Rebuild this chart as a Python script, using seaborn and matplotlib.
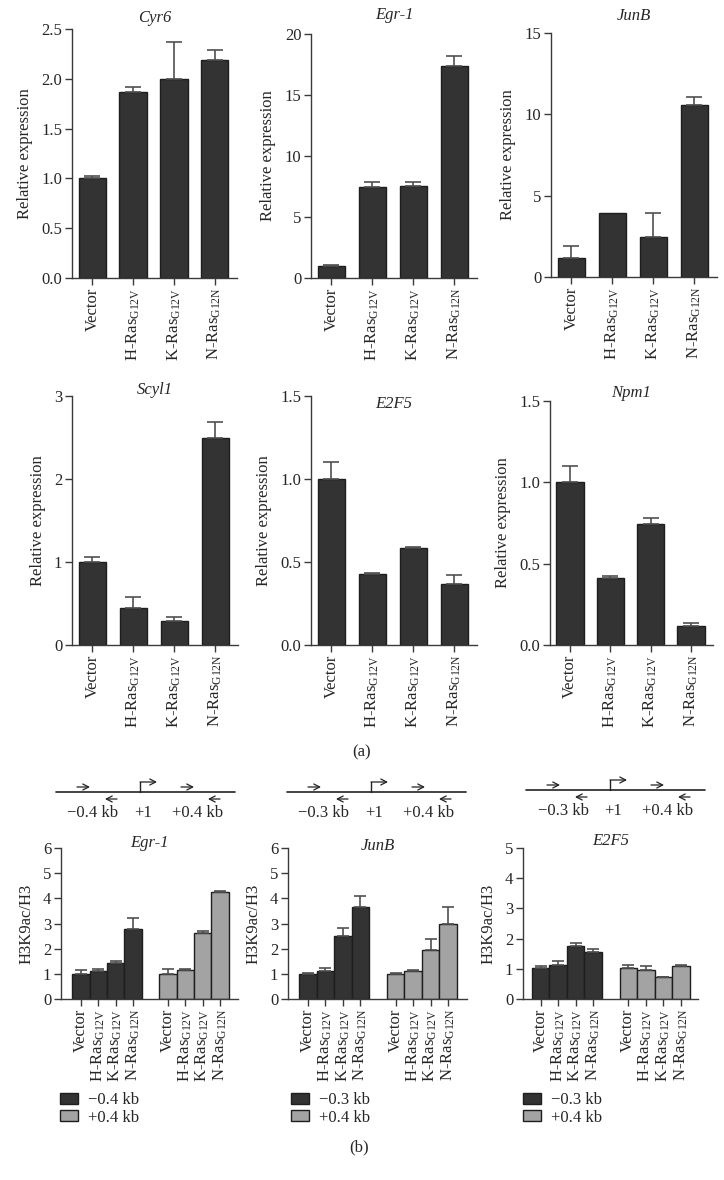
import matplotlib
matplotlib.use('Agg')
import matplotlib.pyplot as plt
from matplotlib.patches import Patch
import seaborn as sns
import pandas as pd

W, H = 724, 1180

conditions = ['Vector', 'H-Ras G12V', 'K-Ras G12V', 'N-Ras G12N']
cond_labels = ['Vector', 'H-Ras$_{\\mathrm{G12V}}$', 'K-Ras$_{\\mathrm{G12V}}$',
               'N-Ras$_{\\mathrm{G12N}}$']

# (a) relative expression: mean and upper error
cyr6_mean = [1.00, 1.87, 2.00, 2.19]
cyr6_err = [0.02, 0.05, 0.37, 0.10]
egr1_mean = [1.00, 7.45, 7.52, 17.35]
egr1_err = [0.05, 0.40, 0.36, 0.87]
junb_mean = [1.17, 3.93, 2.46, 10.60]
junb_err = [0.76, 0.00, 1.50, 0.49]
scyl1_mean = [1.00, 0.45, 0.285, 2.50]
scyl1_err = [0.055, 0.13, 0.05, 0.19]
e2f5_mean = [1.00, 0.427, 0.585, 0.369]
e2f5_err = [0.10, 0.005, 0.005, 0.055]
npm1_mean = [1.00, 0.411, 0.741, 0.117]
npm1_err = [0.10, 0.013, 0.04, 0.02]

# (b) H3K9ac/H3 at the upstream and downstream primer sites
egr1_up = [1.00, 1.10, 1.45, 2.78]
egr1_up_err = [0.14, 0.10, 0.07, 0.42]
egr1_dn = [1.00, 1.16, 2.62, 4.25]
egr1_dn_err = [0.20, 0.02, 0.08, 0.06]
junb_up = [1.00, 1.10, 2.50, 3.67]
junb_up_err = [0.05, 0.13, 0.33, 0.42]
junb_dn = [1.00, 1.13, 1.95, 3.00]
junb_dn_err = [0.05, 0.02, 0.45, 0.65]
e2f5_up = [1.01, 1.11, 1.77, 1.57]
e2f5_up_err = [0.08, 0.16, 0.09, 0.08]
e2f5_dn = [1.01, 0.945, 0.714, 1.08]
e2f5_dn_err = [0.13, 0.14, 0.03, 0.03]

DARK = '#333333'
GRAY = '#a3a3a3'
EDGE = '#1e1e1e'
LINE = '#3a3a3a'
ERR = '#505050'

sns.set_theme(style='ticks')
plt.rcParams['font.family'] = ['Liberation Serif', 'DejaVu Serif']
plt.rcParams['mathtext.fontset'] = 'custom'
plt.rcParams['mathtext.rm'] = 'Liberation Serif'
plt.rcParams['mathtext.it'] = 'Liberation Serif:italic'
plt.rcParams['axes.unicode_minus'] = True

fig = plt.figure(figsize=(W / 100, H / 100), dpi=100)
fig.patch.set_facecolor('white')


def add_axes(x0, y0, x1, y1):
    return fig.add_axes([x0 / W, 1 - y1 / H, (x1 - x0) / W, (y1 - y0) / H])


def style_axes(ax, tick_size):
    sns.despine(ax=ax)
    for side in ['left', 'bottom']:
        ax.spines[side].set_color(LINE)
        ax.spines[side].set_linewidth(1.0)
    ax.tick_params(axis='both', direction='out', length=5, width=1.0,
                   color=LINE, labelsize=tick_size, pad=2)
    ax.set_facecolor('white')


def title_at(ax, text, ypx):
    pos = ax.get_position()
    fig.text(pos.x0 + pos.width / 2, 1 - ypx / H, text, style='italic',
             fontsize=12, ha='center', va='center')


def expr_panel(box, gene, means, errs, ymax, yticks, fmt, title_y):
    ax = add_axes(*box)
    df = pd.DataFrame({'condition': conditions, 'value': means, 'err': errs})
    sns.barplot(data=df, x='condition', y='value', order=conditions, color=DARK,
                saturation=1, width=0.68, edgecolor=EDGE, linewidth=1.0,
                errorbar=None, ax=ax)
    for bar, e in zip(ax.patches, df['err']):
        xc = bar.get_x() + bar.get_width() / 2
        if e > 0:
            ax.errorbar(xc, bar.get_height(), yerr=[[0], [e]], color=ERR,
                        lw=1.2, capsize=6, capthick=1.2, zorder=1)
    ax.set_xlim(-0.5, 3.55)
    ax.set_ylim(0, ymax)
    ax.set_yticks(yticks)
    ax.set_yticklabels([fmt.format(t) for t in yticks])
    ax.set_xticks(range(len(conditions)))
    ax.set_xticklabels(cond_labels, rotation=90, ha='center', va='top',
                       fontsize=10.5)
    ax.set_xlabel('')
    ax.set_ylabel('Relative expression', fontsize=12, labelpad=6)
    style_axes(ax, 12)
    title_at(ax, gene, title_y)
    return ax


expr_panel((72, 29, 237, 278), 'Cyr6', cyr6_mean, cyr6_err, 2.5,
           [0, 0.5, 1.0, 1.5, 2.0, 2.5], '{:.1f}', 18)
expr_panel((311, 34, 477, 278), 'Egr-1', egr1_mean, egr1_err, 20,
           [0, 5, 10, 15, 20], '{:.0f}', 15)
expr_panel((551, 33, 717, 277), 'JunB', junb_mean, junb_err, 15,
           [0, 5, 10, 15], '{:.0f}', 16)
expr_panel((72, 396, 238, 645), 'Scyl1', scyl1_mean, scyl1_err, 3,
           [0, 1, 2, 3], '{:.0f}', 390)
expr_panel((311, 396, 477, 645), 'E2F5', e2f5_mean, e2f5_err, 1.5,
           [0, 0.5, 1.0, 1.5], '{:.1f}', 404)
expr_panel((550, 401, 713, 645), 'Npm1', npm1_mean, npm1_err, 1.5,
           [0, 0.5, 1.0, 1.5], '{:.1f}', 393)


def chip_panel(box, gene, regions, up, up_err, dn, dn_err, ymax, xlim, title_y,
               legend_x):
    ax = add_axes(*box)
    rows = []
    for region, vals, errs in [(regions[0], up, up_err), (regions[1], dn, dn_err)]:
        for cond, v, e in zip(conditions, vals, errs):
            rows.append({'slot': f'{cond} {region}', 'region': region,
                         'value': v, 'err': e})
    df = pd.DataFrame(rows)
    order = list(df['slot'][:4]) + [' '] + list(df['slot'][4:])
    sns.barplot(data=df, x='slot', y='value', order=order, hue='region',
                hue_order=regions, palette=[DARK, GRAY], saturation=1,
                dodge=False, width=1.0, edgecolor=EDGE, linewidth=1.0,
                errorbar=None, legend=False, ax=ax)
    err_of = dict(zip(df['slot'], df['err']))
    for bar in ax.patches:
        if bar.get_height() <= 0:
            continue
        xc = bar.get_x() + bar.get_width() / 2
        slot = order[int(round(xc))]
        e = err_of.get(slot, 0)
        if e > 0:
            ax.errorbar(xc, bar.get_height(), yerr=[[0], [e]], color=ERR,
                        lw=1.2, capsize=4.3, capthick=1.2, zorder=1)
    ticks = [i for i, s in enumerate(order) if s.strip()]
    ax.set_xticks(ticks)
    ax.set_xticklabels(cond_labels * 2, rotation=90, ha='center', va='top',
                       fontsize=9.5)
    ax.set_xlim(*xlim)
    ax.set_ylim(0, ymax)
    ax.set_yticks(range(0, ymax + 1))
    ax.set_xlabel('')
    ax.set_ylabel('H3K9ac/H3', fontsize=12, labelpad=6)
    style_axes(ax, 12)
    title_at(ax, gene, title_y)
    handles = [Patch(facecolor=DARK, edgecolor=EDGE, lw=1.0),
               Patch(facecolor=GRAY, edgecolor=EDGE, lw=1.0)]
    fig.legend(handles, regions, loc='upper left',
               bbox_to_anchor=(legend_x / W, 1 - 1092 / H), frameon=False,
               fontsize=12, handlelength=1.05, handleheight=0.65,
               handletextpad=0.65, labelspacing=0.1, borderpad=0,
               borderaxespad=0)
    return ax


chip_panel((61, 848, 238, 999), 'Egr-1', ['\u22120.4 kb', '+0.4 kb'],
           egr1_up, egr1_up_err, egr1_dn, egr1_dn_err, 6, (-1.15, 9.03), 843, 60)
chip_panel((288, 848, 467, 999), 'JunB', ['\u22120.3 kb', '+0.4 kb'],
           junb_up, junb_up_err, junb_dn, junb_dn_err, 6, (-1.13, 9.07), 846, 291)
chip_panel((523, 848, 698, 999), 'E2F5', ['\u22120.3 kb', '+0.4 kb'],
           e2f5_up, e2f5_up_err, e2f5_dn, e2f5_dn_err, 5, (-1.01, 8.98), 841, 523)

# promoter schematics and panel letters, drawn in pixel space
ov = fig.add_axes([0, 0, 1, 1])
ov.set_xlim(0, W)
ov.set_ylim(H, 0)
ov.axis('off')
ov.patch.set_alpha(0)

schemes = [(56, 792, '\u22120.4 kb'), (287, 792, '\u22120.3 kb'),
           (526, 790, '\u22120.3 kb')]
arrow = dict(arrowstyle='->,head_length=0.35,head_width=0.18', lw=0.9,
             color='#222222', shrinkA=0, shrinkB=0)
for x0, yl, left_label in schemes:
    ov.plot([x0, x0 + 179], [yl, yl], color='#222222', lw=1.2)
    ov.plot([x0 + 84, x0 + 84], [yl, yl - 10], color='#222222', lw=1.0)
    ov.annotate('', xy=(x0 + 101, yl - 10), xytext=(x0 + 84, yl - 10),
                arrowprops=arrow)
    for a, b in [(21, 34), (125, 138)]:
        ov.annotate('', xy=(x0 + b, yl - 5), xytext=(x0 + a, yl - 5),
                    arrowprops=arrow)
    for a, b in [(61, 49), (164, 152)]:
        ov.annotate('', xy=(x0 + b, yl + 7), xytext=(x0 + a, yl + 7),
                    arrowprops=arrow)
    ov.text(x0 + 37, yl + 21, left_label, ha='center', va='center', fontsize=12)
    ov.text(x0 + 87, yl + 21, '+1', ha='center', va='center', fontsize=12)
    ov.text(x0 + 142, yl + 21, '+0.4 kb', ha='center', va='center', fontsize=12)

ov.text(362, 752, '(a)', ha='center', va='center', fontsize=12)
ov.text(359, 1147, '(b)', ha='center', va='center', fontsize=12)

fig.savefig('out.png', dpi=100, facecolor='white')
